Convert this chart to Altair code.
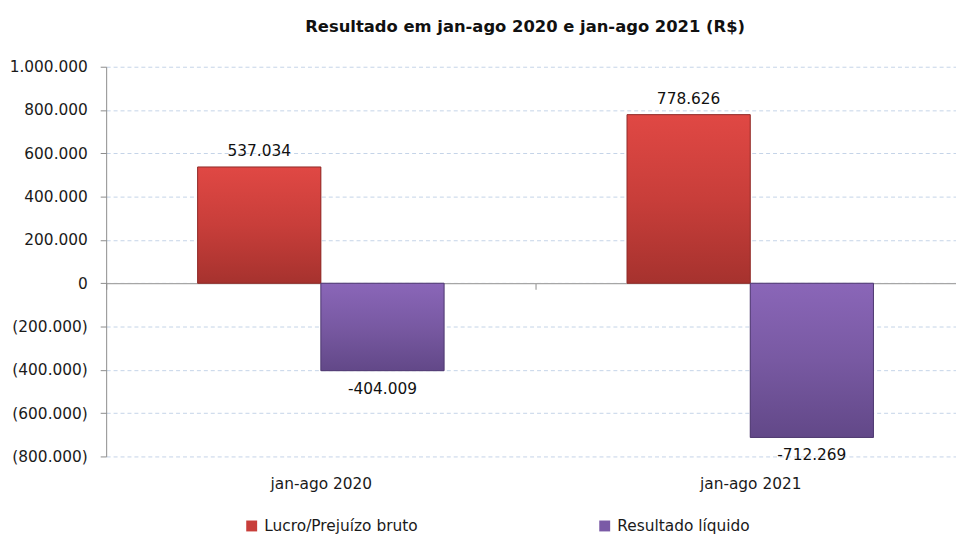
import altair as alt
import pandas as pd

# ---- data ----
categorias = ["jan-ago 2020", "jan-ago 2021"]
series = ["Lucro/Prejuízo bruto", "Resultado líquido"]
lucro_bruto = [537034, 778626]
resultado_liquido = [-404009, -712269]
y_ticks = [-800000, -600000, -400000, -200000, 0, 200000, 400000, 600000, 800000, 1000000]
titulo = "Resultado em jan-ago 2020 e jan-ago 2021 (R$)"

rows = []
for i, c in enumerate(categorias):
    rows.append({"periodo": c, "serie": series[0], "valor": lucro_bruto[i]})
    rows.append({"periodo": c, "serie": series[1], "valor": resultado_liquido[i]})
df = pd.DataFrame(rows)

FONT = "DejaVu Sans"
FS = 15.5
HALF_STEP = 216.5

grad_red = alt.LinearGradient(
    gradient="linear", x1=0, x2=0, y1=0, y2=1,
    stops=[alt.GradientStop(color="#e04844", offset=0),
           alt.GradientStop(color="#c83e3a", offset=0.5),
           alt.GradientStop(color="#a6322e", offset=1)])
grad_purple = alt.LinearGradient(
    gradient="linear", x1=0, x2=0, y1=0, y2=1,
    stops=[alt.GradientStop(color="#8a66b8", offset=0),
           alt.GradientStop(color="#7859a2", offset=0.5),
           alt.GradientStop(color="#624888", offset=1)])

x_enc = alt.X(
    "periodo:N", sort=categorias,
    scale=alt.Scale(domain=categorias, range=[0, 866], paddingInner=0.426, paddingOuter=0.213),
    axis=alt.Axis(title=None, orient="bottom", offset=-174.7, grid=False,
                  domain=True, domainColor="#a6a6a6", domainWidth=1.3,
                  ticks=True, tickSize=6, tickColor="#a6a6a6", tickWidth=1.3,
                  tickOffset=-HALF_STEP, labelOffset=HALF_STEP,
                  labelPadding=189, labelFont=FONT, labelFontSize=FS, labelColor="#1a1a1a",
                  labelAngle=0),
)
y_enc = alt.Y(
    "valor:Q",
    scale=alt.Scale(domain=[-800000, 1000000], nice=False),
    axis=alt.Axis(title=None, values=y_ticks,
                  labelExpr="datum.value < 0 ? '(' + format(-datum.value, ',.0f') + ')' : format(datum.value, ',.0f')",
                  domain=True, domainColor="#8c8c8c", domainWidth=1,
                  ticks=True, tickSize=6, tickColor="#8c8c8c",
                  labelPadding=13, labelFont=FONT, labelFontSize=FS, labelColor="#1a1a1a",
                  grid=True, gridColor="#c4d3e8", gridDash=[4, 3], gridWidth=1),
)
xo = alt.XOffset("serie:N", sort=series, scale=alt.Scale(domain=series, paddingInner=0, paddingOuter=0))

base = alt.Chart(df).encode(x=x_enc, y=y_enc, xOffset=xo)

legend_bars = base.mark_bar().encode(
    color=alt.Color(
        "serie:N", sort=series,
        scale=alt.Scale(domain=series, range=["#c83e3a", "#7a5aa6"]),
        legend=alt.Legend(title=None, orient="none", legendX=139, legendY=455,
                          direction="horizontal", columnPadding=180,
                          symbolType="square", symbolSize=121, symbolStrokeWidth=0,
                          symbolOpacity=1, labelOffset=5,
                          labelFont=FONT, labelFontSize=FS, labelColor="#1a1a1a"),
    )
)

grad_bars = base.mark_bar(strokeWidth=1).encode(
    fill=alt.condition(alt.datum.serie == series[0], alt.value(grad_red), alt.value(grad_purple)),
    stroke=alt.condition(alt.datum.serie == series[0], alt.value("#8f2c28"), alt.value("#4f3a70")),
)

txt_pos = base.mark_text(dy=-16, font=FONT, fontSize=FS, color="#111111", baseline="middle").encode(
    text=alt.Text("valor:Q", format=",.0f")
).transform_filter("datum.valor >= 0")

txt_neg = base.mark_text(dy=18, font=FONT, fontSize=FS, color="#111111", baseline="middle").encode(
    text=alt.Text("valor:Q", format=",.0f")
).transform_filter("datum.valor < 0")

chart = alt.layer(legend_bars, grad_bars, txt_pos, txt_neg).properties(
    width=857,
    height=393,
    title=alt.TitleParams(titulo, font=FONT, fontSize=16.5, fontWeight="bold", color="#111111",
                          anchor="middle", dx=-6, baseline="alphabetic", offset=12),
    autosize=alt.AutoSizeParams(type="none"),
    padding={"left": 99, "top": 57, "right": 0, "bottom": 76},
).configure(
    font=FONT,
    locale=alt.Locale(number=alt.NumberLocale(decimal=",", thousands=".", grouping=[3],
                                              currency=["R$ ", ""], minus="-")),
).configure_view(stroke=None)

chart.save("out.html", embed_options={"renderer": "svg", "actions": False})
